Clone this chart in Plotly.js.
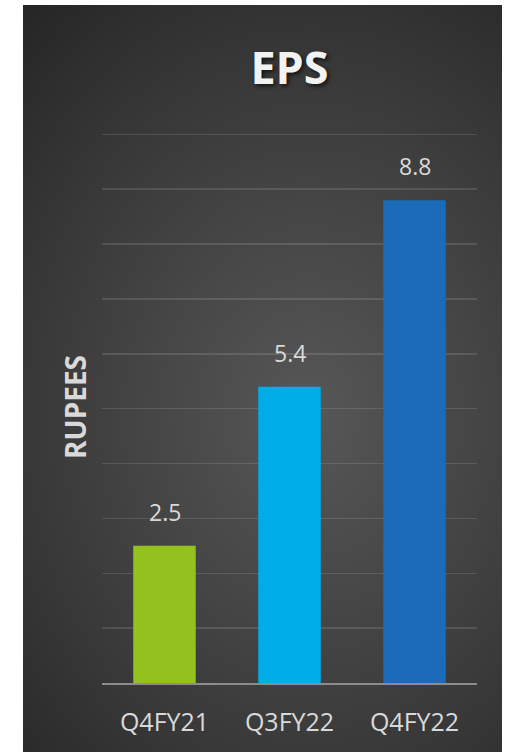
<!DOCTYPE html>
<html>
<head>
<meta charset="utf-8">
<script src="https://cdn.plot.ly/plotly-3.0.1.min.js"></script>
<style>
  html, body { margin: 0; padding: 0; background: #ffffff; width: 506px; height: 752px; overflow: hidden; }
  #panel {
    position: absolute; left: 23px; top: 5px; width: 479px; height: 747px;
    background: radial-gradient(ellipse 430px 540px at 60% 55%, #575757 0%, #474747 35%, #363636 70%, #262626 100%);
  }
  #chart { width: 479px; height: 747px; }
</style>
</head>
<body>
<div id="panel"><div id="chart"></div></div>
<script>
const categories = ['Q4FY21', 'Q3FY22', 'Q4FY22'];
const eps = [2.5, 5.4, 8.8];
const labels = ['2.5', '5.4', '8.8'];
const barColors = ['#95C11F', '#00ADE9', '#1A6CBA'];

const txtColor = '#d9d9d9';
const fontFam = '"Open Sans", "Noto Sans", sans-serif';

const trace = {
  type: 'bar',
  x: categories,
  y: eps,
  width: 0.5,
  marker: { color: barColors, line: { width: 0 } },
  hoverinfo: 'skip'
};

const annotations = categories.map((c, i) => ({
  x: c, y: eps[i], xref: 'x', yref: 'y',
  text: labels[i], showarrow: false, yanchor: 'bottom', yshift: 16,
  font: { family: fontFam, size: 23, color: txtColor }
}));

const layout = {
  width: 479, height: 747,
  paper_bgcolor: 'rgba(0,0,0,0)',
  plot_bgcolor: 'rgba(0,0,0,0)',
  margin: { l: 79, r: 25, t: 126, b: 69 },
  showlegend: false,
  title: {
    text: '<b>EPS</b>',
    x: 0.5, xanchor: 'center', xref: 'paper',
    y: 1 - 63 / 747, yanchor: 'middle', yref: 'container',
    font: { family: fontFam, size: 45, color: '#f2f2f2', shadow: '2px 2px 4px rgba(0,0,0,0.7)' }
  },
  xaxis: {
    type: 'category',
    showline: true, linecolor: '#8c8c8c', linewidth: 2,
    ticks: '', ticklabelstandoff: 16,
    tickfont: { family: fontFam, size: 25, color: txtColor },
    showgrid: false, zeroline: false, fixedrange: true
  },
  yaxis: {
    range: [0, 10.06], tickvals: [1, 2, 3, 4, 5, 6, 7, 8, 9, 10],
    showticklabels: false, ticks: '',
    showgrid: true, gridcolor: 'rgba(255,255,255,0.12)', gridwidth: 1.5,
    zeroline: false, showline: false, fixedrange: true,
    title: { text: '<b>RUPEES</b>', standoff: 6, font: { family: fontFam, size: 28, color: txtColor } }
  },
  annotations: annotations
};

Plotly.newPlot('chart', [trace], layout, { displayModeBar: false, staticPlot: true });
</script>
</body>
</html>
